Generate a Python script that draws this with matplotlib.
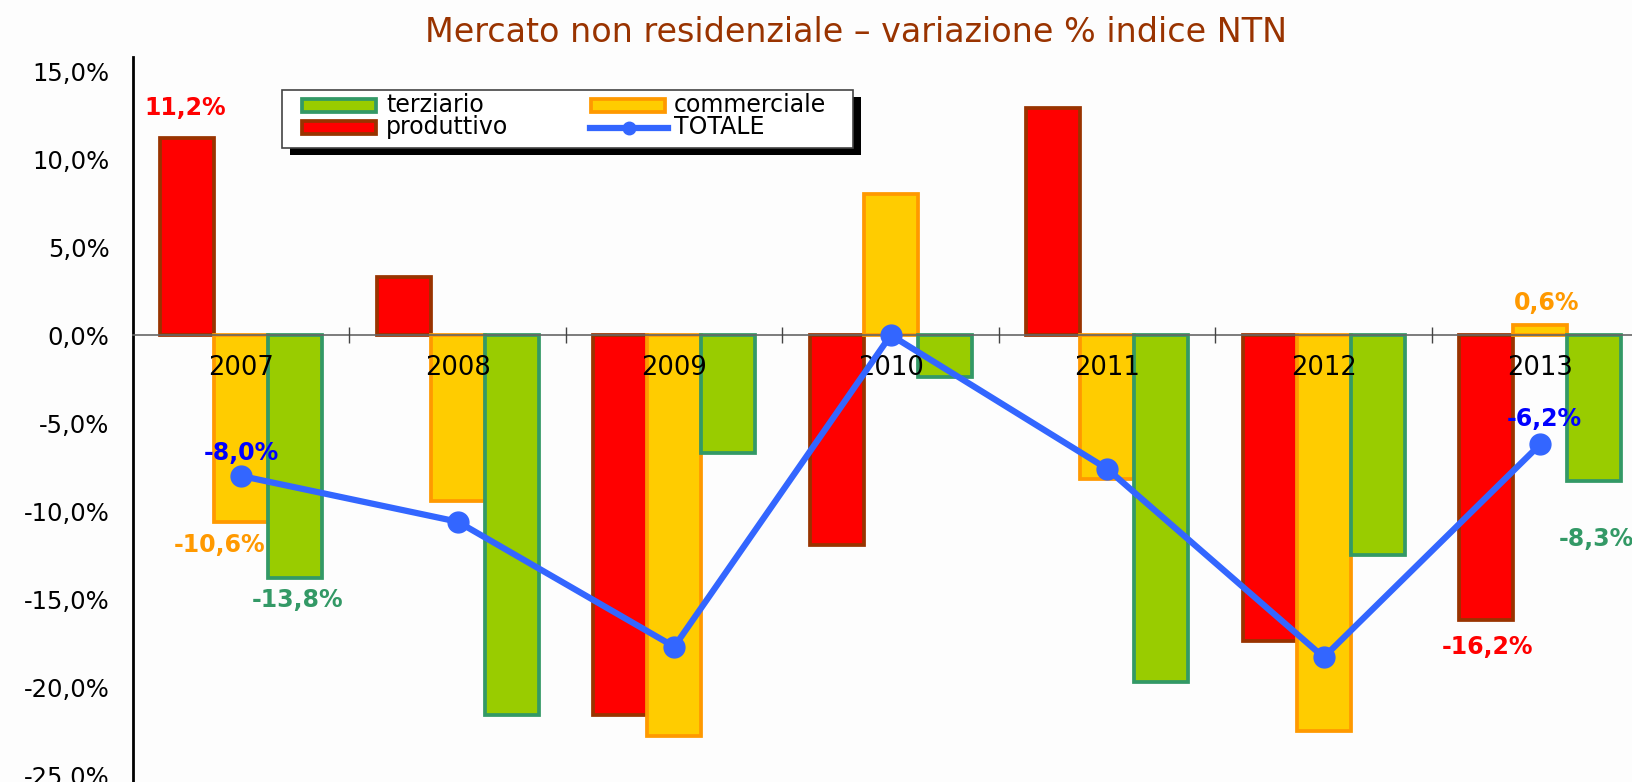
import matplotlib
matplotlib.use("Agg")
import matplotlib.pyplot as plt
import numpy as np
from matplotlib.patches import Rectangle
from matplotlib.lines import Line2D

years = ["2007", "2008", "2009", "2010", "2011", "2012", "2013"]
produttivo = [11.2, 3.3, -21.6, -11.9, 12.9, -17.4, -16.2]
commerciale = [-10.6, -9.4, -22.8, 8.0, -8.2, -22.5, 0.6]
terziario = [-13.8, -21.6, -6.7, -2.4, -19.7, -12.5, -8.3]
totale = [-8.0, -10.6, -17.7, 0.0, -7.6, -18.3, -6.2]
ytick_vals = [15, 10, 5, 0, -5, -10, -15, -20, -25]
series_names = ["terziario", "produttivo", "commerciale", "TOTALE"]

C_RED, E_RED = "#FF0000", "#993300"
C_YEL, E_YEL = "#FFCC00", "#FF9900"
C_GRN, E_GRN = "#99CC00", "#339966"
C_LINE = "#3366FF"

W, H = 1632, 782

def pct(v):
    return f"{v:.1f}%".replace(".", ",")

def fx(x):
    return x / W

def fy(y):
    return 1 - y / H

fig = plt.figure(figsize=(W / 100, H / 100), dpi=100)
fig.patch.set_facecolor("#FDFDFD")
ax = fig.add_axes([fx(133), fy(784), (7 * 216.5) / W, (784 - 57) / H])
ax.set_facecolor("none")

x = np.arange(len(years))
w = 0.25
ax.bar(x - w, produttivo, w, color=C_RED, edgecolor=E_RED, linewidth=2.7, zorder=2)
ax.bar(x, commerciale, w, color=C_YEL, edgecolor=E_YEL, linewidth=2.7, zorder=2)
ax.bar(x + w, terziario, w, color=C_GRN, edgecolor=E_GRN, linewidth=2.7, zorder=2)
ax.plot(x, totale, color=C_LINE, linewidth=4.5, marker="o", markersize=15, zorder=5)

ax.set_xlim(-0.5, 6.5)
ax.set_ylim(-25.5, 15.8)

for s in ["top", "right"]:
    ax.spines[s].set_visible(False)
ax.spines["left"].set_linewidth(2)
ax.spines["left"].set_color("black")
ax.spines["bottom"].set_position(("data", 0))
ax.spines["bottom"].set_color("#666666")
ax.spines["bottom"].set_linewidth(1.2)
ax.spines["bottom"].set_zorder(3)

ax.set_yticks(ytick_vals)
ax.set_yticklabels([pct(v) for v in ytick_vals], fontsize=17.5, family="DejaVu Sans")
ax.tick_params(axis="y", length=0, pad=17)

ax.set_xticks(x)
ax.set_xticklabels(years, fontsize=18.5, family="DejaVu Sans")
ax.set_xticks(np.arange(0.5, 6.5, 1), minor=True)
ax.tick_params(axis="x", which="major", length=0, pad=14)
ax.tick_params(axis="x", which="minor", length=12, direction="inout", color="#444444", width=1)
ax.xaxis.set_zorder(4)

lab_kw = dict(fontsize=17, fontweight="bold", family="DejaVu Sans", ha="center", va="center", zorder=6)
ax.text(0 - w - 0.01, 12.9, pct(produttivo[0]), color=C_RED, **lab_kw)
ax.text(0 - 0.1, -11.9, pct(commerciale[0]), color=E_YEL, **lab_kw)
ax.text(0 + w + 0.01, -15.05, pct(terziario[0]), color=E_GRN, **lab_kw)
ax.text(0, -6.7, pct(totale[0]), color="#0000FF", **lab_kw)
ax.text(6 + 0.03, 1.85, pct(commerciale[6]), color=E_YEL, **lab_kw)
ax.text(6 + 0.02, -4.75, pct(totale[6]), color="#0000FF", **lab_kw)
ax.text(6 + 0.26, -11.6, pct(terziario[6]), color=E_GRN, **lab_kw)
ax.text(6 - 0.245, -17.7, pct(produttivo[6]), color=C_RED, **lab_kw)

fig.text(fx(856), fy(33), "Mercato non residenziale \u2013 variazione % indice NTN",
         fontsize=24, color="#993300", ha="center", va="center", family="DejaVu Sans")

# legend (drawn by hand in figure pixels)
T = fig.transFigure
def frect(x0, y0, x1, y1, **kw):
    r = Rectangle((fx(x0), fy(y1)), fx(x1) - fx(x0), fy(y0) - fy(y1), transform=T, **kw)
    fig.patches.append(r)

frect(290, 97, 861, 155, facecolor="black", edgecolor="none", zorder=8)
frect(282, 90, 853, 148, facecolor="white", edgecolor="#444444", linewidth=1.2, zorder=9)
frect(302, 99, 376, 112, facecolor=C_GRN, edgecolor=E_GRN, linewidth=2.7, zorder=10)
frect(302, 121, 376, 134, facecolor=C_RED, edgecolor=E_RED, linewidth=2.7, zorder=10)
frect(591, 99, 665, 112, facecolor=C_YEL, edgecolor=E_YEL, linewidth=2.7, zorder=10)
fig.lines.append(Line2D([fx(590), fx(668)], [fy(127.5), fy(127.5)], transform=T,
                        color=C_LINE, linewidth=4.5, zorder=10))
fig.lines.append(Line2D([fx(629)], [fy(127.5)], transform=T, color=C_LINE,
                        marker="o", markersize=9, linestyle="none", zorder=10))
leg_kw = dict(fontsize=17, family="DejaVu Sans", ha="left", va="center", zorder=11, color="black")
fig.text(fx(386), fy(105), series_names[0], **leg_kw)
fig.text(fx(386), fy(127), series_names[1], **leg_kw)
fig.text(fx(674), fy(105), series_names[2], **leg_kw)
fig.text(fx(674), fy(127), series_names[3], **leg_kw)

ax.set_zorder(1)
fig.savefig("out.png", dpi=100, facecolor=fig.get_facecolor())
